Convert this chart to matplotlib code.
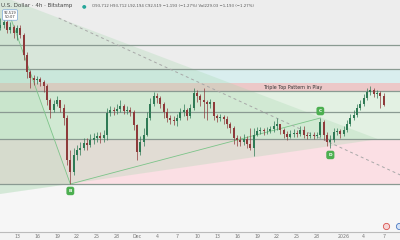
import numpy as np
import pandas as pd
import matplotlib
matplotlib.use("Agg")
import matplotlib.pyplot as plt
import matplotlib.dates as mdates
from matplotlib.patches import Polygon

# 12h candles, BTC/USD (Bitstamp)
times = pd.date_range("2025-11-10 12:00", periods=116, freq="12h")
closes = [104450, 104900, 103700, 104150, 103250, 104000, 102950, 99950, 97400, 96500,
          96200, 96350, 95900, 95300, 93200, 91700, 92600, 93200, 92000, 90500,
          84200, 82400, 84950, 85700, 86000, 86750, 86450, 87200, 87500, 87800,
          87500, 87950, 91250, 91700, 91550, 91850, 92300, 91550, 91700, 91400,
          89450, 85400, 86900, 87950, 90500, 92600, 93800, 93500, 92600, 91400,
          90500, 90200, 90050, 90500, 91400, 91700, 90800, 92000, 94250, 93800,
          93200, 92900, 92600, 92900, 90800, 90500, 90650, 90350, 89600, 89000,
          87500, 87200, 86900, 87350, 86600, 86000, 87950, 88550, 88700, 88550,
          88550, 88850, 89300, 89600, 88700, 88100, 87650, 88100, 88250, 88100,
          88700, 87950, 87800, 87950, 87800, 87950, 89900, 87950, 86900, 87200,
          88400, 88550, 88100, 88700, 89600, 90500, 90950, 92000, 92600, 93500,
          94400, 94700, 94100, 94250, 93800, 92519]
highs = [105500, 105500, 105200, 104900, 104450, 104450, 104450, 103250, 100400, 97700,
         96950, 96800, 96650, 96200, 95600, 93500, 93200, 93800, 93200, 92600,
         90950, 85700, 86000, 86450, 86900, 87500, 87500, 88100, 88250, 88400,
         88400, 88700, 92000, 92300, 92150, 92600, 93200, 92600, 92300, 92150,
         91700, 89600, 87800, 89000, 91400, 93500, 94400, 94250, 93800, 92900,
         92000, 90950, 90800, 91100, 92000, 92600, 92000, 92600, 95000, 94700,
         94100, 95000, 93200, 93350, 92900, 91100, 91100, 90950, 90800, 89900,
         89300, 87950, 87800, 88100, 87800, 89000, 89000, 89150, 89150, 89000,
         89150, 89300, 90050, 90500, 89600, 89000, 88550, 88700, 88850, 88700,
         89300, 89300, 88400, 88400, 88400, 88400, 90500, 90200, 88400, 87950,
         89000, 89000, 88850, 89300, 90200, 91100, 91700, 92600, 93200, 94100,
         95000, 95300, 95000, 94700, 94550, 94250]
lows = [103700, 104000, 103250, 103250, 102500, 102200, 102500, 99200, 96500, 95000,
        95450, 95600, 95300, 94400, 92450, 90500, 91400, 92300, 91400, 89450,
        83450, 80600, 81950, 84200, 84950, 85700, 85700, 86150, 86600, 86900,
        86750, 86900, 87200, 90800, 90950, 91100, 91400, 91100, 91100, 90800,
        88700, 84200, 84950, 86300, 87800, 90200, 92300, 92750, 92000, 90500,
        89900, 89600, 89450, 89300, 90200, 90800, 90200, 90500, 91700, 92900,
        92300, 90500, 90200, 92000, 90200, 89900, 90050, 89600, 89000, 88250,
        86600, 86300, 86300, 86450, 86000, 85700, 84800, 87800, 88100, 87950,
        88100, 88250, 88400, 88700, 88100, 87500, 87200, 87500, 87650, 87650,
        87800, 87500, 87350, 87500, 87350, 87500, 87650, 87200, 86300, 86000,
        86900, 87950, 87500, 87800, 88400, 89300, 90200, 90650, 91700, 92300,
        93200, 93950, 93650, 93500, 92000, 92300]
first_open = 104000

# horizontal levels and zones
levels = [101450, 97850, 94550, 91400, 87350, 80600]
zones = [(95750, 97850, "#d9eeee"), (94550, 95750, "#ecc8c8"),
         (87350, 94550, "#e3f1e3"), (80600, 87350, "#fbdfe4")]

# triangle / harmonic drawing points
tri_dates = ["2025-11-09 00:00", "2026-01-06 04:00", "2025-11-09 00:00"]
tri_prices = [109410, 87320, 78890]
xab_dates = ["2025-11-11 15:00", "2025-11-21 00:00", "2025-11-09 00:00", "2025-11-09 00:00"]
xab_prices = [106700, 80600, 78890, 106700]
pt_names = ["B", "C", "D"]
pt_dates = ["2025-11-21 00:00", "2025-12-28 12:00", "2025-12-30 00:00"]
pt_prices = [80600, 90500, 86000]
dash_dates = ["2025-11-19 06:00", "2026-01-09 12:00"]
dash_prices = [105500, 81950]

tick_dates = ["2025-11-13", "2025-11-16", "2025-11-19", "2025-11-22", "2025-11-25",
              "2025-11-28", "2025-12-01", "2025-12-04", "2025-12-07", "2025-12-10",
              "2025-12-13", "2025-12-16", "2025-12-19", "2025-12-22", "2025-12-25",
              "2025-12-28", "2026-01-01", "2026-01-04", "2026-01-07"]
tick_labels = ["13", "16", "19", "22", "25", "28", "Dec", "4", "7", "10",
               "13", "16", "19", "22", "25", "28", "2026", "4", "7"]

d = lambda s: mdates.date2num(pd.Timestamp(s))

fig = plt.figure(figsize=(4, 2.4), dpi=100)
fig.patch.set_facecolor("#f3f3f3")
ax = fig.add_axes([0, 8 / 240, 1, 232 / 240])
ax.set_facecolor("#ededed")

x0 = d("2025-11-13") - 2.55
x1 = d("2025-11-13") + 57.45
ax.set_xlim(x0, x1)
ax.set_ylim(73400, 108200)

ax.axhspan(73400, 80600, color="#f6f6f6", lw=0, zorder=0)
for lo, hi, c in zones:
    ax.axhspan(lo, hi, color=c, lw=0, zorder=0)

tri = Polygon(list(zip([d(s) for s in tri_dates], tri_prices)), closed=True,
              facecolor="#a8d8b0", alpha=0.3, lw=0, zorder=1)
ax.add_patch(tri)
xab = Polygon(list(zip([d(s) for s in xab_dates], xab_prices)), closed=True,
              facecolor="#a8d8b0", alpha=0.18, lw=0, zorder=1)
ax.add_patch(xab)

for lv in levels:
    ax.axhline(lv, color="#8a9a92", lw=0.9, zorder=2)

# pattern lines
ax.plot([d(xab_dates[0]), d(pt_dates[0])], [xab_prices[0], pt_prices[0]],
        color="#7cc489", lw=0.6, zorder=3)
ax.plot([d(pt_dates[0]), d(pt_dates[1])], [pt_prices[0], pt_prices[1]],
        color="#7cc489", lw=0.6, zorder=3)
ax.plot([d(s) for s in dash_dates], dash_prices, color="#a8a8a8", lw=0.7,
        ls=(0, (3, 3)), zorder=3)

# candles
t = mdates.date2num(times)
opens = np.r_[first_open, closes[:-1]]
closes_a = np.array(closes)
up = closes_a >= opens
cols = np.where(up, "#2f7a55", "#8e3b3b")
ax.vlines(t, lows, highs, colors=cols, lw=0.5, zorder=4)
bottom = np.minimum(opens, closes_a)
height = np.maximum(np.abs(closes_a - opens), 60)
ax.bar(t, height, bottom=bottom, width=0.28, color=cols, lw=0, zorder=5)

for name, ds, p in zip(pt_names, pt_dates, pt_prices):
    off = 5 if name == "C" else -5
    ax.annotate(name, (d(ds), p), xytext=(0, off), textcoords="offset points",
                ha="center", va="center", fontsize=3.2, color="white", fontweight="bold",
                bbox=dict(boxstyle="round,pad=0.35", fc="#4caf50", ec="#4caf50"), zorder=6)

ax.text(d("2025-12-20 01:00"), 95150, "Triple Top Pattern in Play", fontsize=3.4,
        color="#333333", va="center", ha="left", zorder=6)

ax.set_xticks([d(s) for s in tick_dates])
ax.set_xticklabels(tick_labels)
ax.tick_params(axis="x", length=0, pad=1.5, labelsize=3.4, labelcolor="#777777")
ax.set_yticks([])
for s in ["top", "left", "right"]:
    ax.spines[s].set_visible(False)
ax.spines["bottom"].set_color("#bbbbbb")
ax.spines["bottom"].set_linewidth(0.8)

# header
fig.text(1 / 400, 1 - 6 / 240, "U.S. Dollar · 4h · Bitstamp", fontsize=4.0,
         color="#444444", va="center", ha="left")
fig.text(84 / 400, 1 - 6 / 240, "●", fontsize=3.8, color="#26a69a", va="center", ha="center")
fig.text(92 / 400, 1 - 6 / 240,
         "O93,712 H93,712 L92,194 C92,519 −1,193 (−1.27%) Vol229.03 −1,193 (−1.27%)",
         fontsize=2.75, color="#555555", va="center", ha="left")
fig.text(10 / 400, 1 - 15 / 240, "92,519\n50:07", fontsize=2.6, color="#333333",
         va="center", ha="center", linespacing=1.1,
         bbox=dict(boxstyle="round,pad=0.3", fc="white", ec="#7aa7d9", lw=0.5))

# event icons
ax.plot([386 / 400], [(232 - 226) / 232], "o", transform=ax.transAxes, ms=4.5,
        mfc="#f6d5d5", mec="#d9534f", mew=0.6, clip_on=False, zorder=7)
ax.plot([399 / 400], [(232 - 226) / 232], "o", transform=ax.transAxes, ms=4.5,
        mfc="#d5e3f6", mec="#4a78c2", mew=0.6, clip_on=False, zorder=7)

fig.savefig("out.png", dpi=100, facecolor=fig.get_facecolor())
